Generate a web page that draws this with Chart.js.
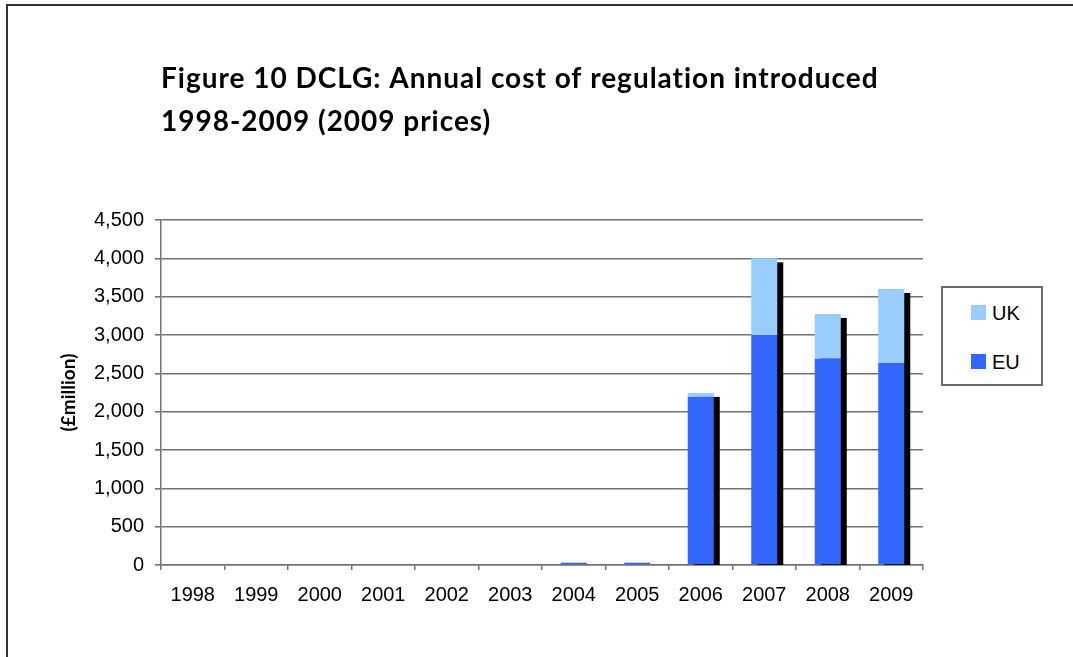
<!DOCTYPE html>
<html>
<head>
<meta charset="utf-8">
<script src="https://cdn.jsdelivr.net/npm/chart.js@4.4.0/dist/chart.umd.min.js"></script>
<style>
  html, body { margin: 0; padding: 0; background: #fff; overflow: hidden; }
  body { width: 1073px; height: 657px; position: relative; }
  #frame { position: absolute; left: 6px; top: 4px; width: 1200px; height: 800px; border: 2px solid #333; }
  #chart { position: absolute; left: 0; top: 0; }
  #legend {
    position: absolute; left: 941px; top: 286px; width: 98px; height: 96px;
    border: 2px solid #6b6b6b; background: #fff;
    font-family: "Liberation Sans", Arial, sans-serif; font-size: 20px; color: #000;
  }
  .item { position: absolute; left: 28px; height: 20px; line-height: 20px; }
  .item i { position: absolute; left: 0; top: 2px; width: 15px; height: 15px; }
  .item span { position: absolute; left: 21px; top: 0; white-space: nowrap; }
</style>
</head>
<body>
<div id="frame"></div>
<canvas id="chart" width="1073" height="657"></canvas>
<div id="legend"></div>
<script>
/* ── Data ─────────────────────────────────────────────────── */
const years = ['1998', '1999', '2000', '2001', '2002', '2003', '2004', '2005', '2006', '2007', '2008', '2009'];
const euCost = [0, 0, 0, 0, 0, 0, 30, 30, 2195, 3000, 2690, 2635];
const ukCost = [0, 0, 0, 0, 0, 0, 0, 0, 50, 1000, 585, 965];
const yTicks = [0, 500, 1000, 1500, 2000, 2500, 3000, 3500, 4000, 4500];

const titleLines = ['Figure 10 DCLG: Annual cost of regulation introduced', '1998-2009 (2009 prices)'];

/* ── Plugins ─────────────────────────────────────────────── */
// black drop shadow behind each stacked column
const shadowPlugin = {
  id: 'shadow',
  beforeDatasetsDraw(chart) {
    const ctx = chart.ctx;
    const area = chart.chartArea;
    const metas = chart.data.datasets.map((_, i) => chart.getDatasetMeta(i));
    ctx.save();
    ctx.fillStyle = '#000';
    years.forEach((_, i) => {
      if (!(euCost[i] + ukCost[i])) return;
      let top = Infinity, x = 0, w = 0;
      metas.forEach(m => {
        const el = m.data[i];
        top = Math.min(top, el.y);
        x = el.x; w = el.width;
      });
      const h = area.bottom - top - 4;
      if (h <= 0) return;
      ctx.fillRect(x - w / 2 + 6, top + 4, w, h);
    });
    ctx.restore();
  }
};

const titlePlugin = {
  id: 'pageTitle',
  afterDraw(chart) {
    const ctx = chart.ctx;
    ctx.save();
    ctx.fillStyle = '#000';
    ctx.font = 'bold 28px Lato';
    ctx.textBaseline = 'alphabetic';
    ctx.textAlign = 'left';
    const w = ctx.measureText(titleLines[0]).width;
    ctx.letterSpacing = ((718 - w) / titleLines[0].length) + 'px';
    ctx.fillText(titleLines[0], 161, 88);
    ctx.fillText(titleLines[1], 161, 131);
    ctx.restore();
  }
};

/* ── Chart ───────────────────────────────────────────────── */
const gridGrey = '#737373';

const chart = new Chart(document.getElementById('chart').getContext('2d'), {
  type: 'bar',
  data: {
    labels: years,
    datasets: [
      { label: 'EU', data: euCost, backgroundColor: '#3366ff', borderWidth: 0 },
      { label: 'UK', data: ukCost, backgroundColor: '#99ccff', borderWidth: 0 }
    ]
  },
  options: {
    responsive: false,
    animation: false,
    devicePixelRatio: 1,
    barPercentage: 0.41,
    categoryPercentage: 1,
    layout: { padding: { left: 0, top: 220, right: 150, bottom: 52 } },
    plugins: {
      legend: { display: false },
      tooltip: { enabled: false }
    },
    scales: {
      x: {
        stacked: true,
        afterFit: s => { s.height = 40; },
        grid: { drawOnChartArea: false, drawTicks: true, tickLength: 5, color: gridGrey, lineWidth: 1.5 },
        border: { display: true, color: gridGrey, width: 1.5 },
        ticks: { color: '#000', padding: 13, maxRotation: 0, font: { family: 'Liberation Sans', size: 20 } }
      },
      y: {
        stacked: true,
        min: 0,
        max: 4500,
        afterFit: s => { s.width = 161; },
        afterBuildTicks: s => { s.ticks = yTicks.map(v => ({ value: v })); },
        grid: { color: gridGrey, lineWidth: 1.6, tickLength: 6 },
        border: { display: true, color: gridGrey, width: 1.5 },
        ticks: {
          color: '#000', padding: 11,
          font: { family: 'Liberation Sans', size: 20 },
          callback: v => v.toLocaleString('en-GB')
        },
        title: {
          display: true,
          text: '(£million)',
          color: '#000',
          padding: { top: 57, bottom: 0 },
          font: { family: 'Lato', size: 19, weight: 'bold' }
        }
      }
    }
  },
  plugins: [shadowPlugin, titlePlugin]
});

/* ── Legend (boxed, UK above EU) ─────────────────────────── */
const legendEl = document.getElementById('legend');
const legendTops = [15, 64];
chart.data.datasets.slice().reverse().forEach((ds, i) => {
  const item = document.createElement('div');
  item.className = 'item';
  item.style.top = legendTops[i] + 'px';
  item.innerHTML = `<i style="background:${ds.backgroundColor}"></i><span>${ds.label}</span>`;
  legendEl.appendChild(item);
});
</script>
</body>
</html>
